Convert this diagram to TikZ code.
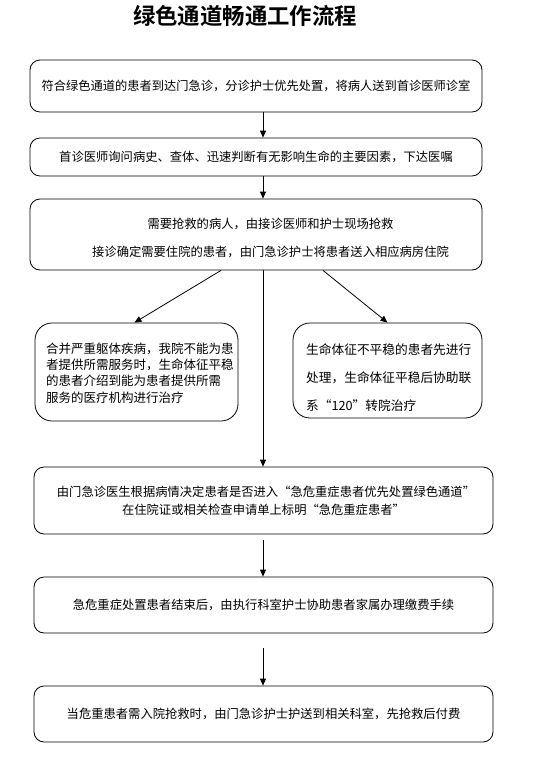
\documentclass[tikz,border=0pt]{standalone}
\usepackage{fontspec}
\setmainfont{Noto Sans CJK SC}[BoldFont={Noto Sans CJK SC Bold}]
\usetikzlibrary{arrows.meta,calc}
\tikzset{
  box/.style={draw, line width=0.8pt, rounded corners=10pt, inner sep=0pt},
  sidebox/.style={draw, line width=0.8pt, rounded corners=17pt, inner sep=0pt},
  txt/.style={inner sep=0pt, font=\fontsize{12.3}{16}\selectfont},
  arr/.style={line width=0.8pt, -{Triangle[length=7pt,width=6pt]}},
  ln/.style={line width=0.8pt}
}
\begin{document}
\begin{tikzpicture}[x=1pt,y=-1pt]
\useasboundingbox (0,0) rectangle (545,764);
\coordinate (spine) at (263,0);
% title
\node[inner sep=0pt, font=\bfseries\fontsize{22.4}{26}\selectfont] (title) at (245,16) {绿色通道畅通工作流程};
% boxes
\node[box, minimum width=452pt, minimum height=52pt] (b1) at (256,86)
  {\fontsize{12.25}{16}\selectfont 符合绿色通道的患者到达门急诊，分诊护士优先处置，将病人送到首诊医师诊室};
\node[box, minimum width=452pt, minimum height=38pt] (b2) at (256,157)
  {\fontsize{12.3}{16}\selectfont 首诊医师询问病史、查体、迅速判断有无影响生命的主要因素，下达医嘱};
\node[box, minimum width=452pt, minimum height=71pt] (b3) at (256,234.5) {};
\node[txt, align=center, font=\fontsize{12.3}{28}\selectfont] (t3) at (270.5,238)
  {需要抢救的病人，由接诊医师和护士现场抢救\\接诊确定需要住院的患者，由门急诊护士将患者送入相应病房住院};
\node[sidebox, minimum width=203pt, minimum height=98pt] (bl) at (136.5,372) {};
\node[txt, align=left, anchor=west, font=\fontsize{12.5}{16.2}\selectfont] (tl) at (46,373)
  {合并严重躯体疾病，我院不能为患\\者提供所需服务时，生命体征平稳\\的患者介绍到能为患者提供所需\\服务的医疗机构进行治疗};
\node[sidebox, minimum width=189pt, minimum height=95pt] (br) at (387.5,370.5) {};
\node[txt, align=left, anchor=west, font=\fontsize{12.7}{28}\selectfont] (tr) at (306,378)
  {生命体征不平稳的患者先进行\\处理，生命体征平稳后协助联\\系“120”转院治疗};
\node[box, minimum width=459pt, minimum height=67pt, align=center,
  font=\fontsize{12.3}{18}\selectfont] (b4) at (263.5,500.5)
  {\hspace*{5pt}由门急诊医生根据病情决定患者是否进入“急危重症患者优先处置绿色通道”\\在住院证或相关检查申请单上标明“急危重症患者”};
\node[box, minimum width=459pt, minimum height=56pt] (b5) at (263.5,605)
  {\fontsize{12.3}{16}\selectfont 急危重症处置患者结束后，由执行科室护士协助患者家属办理缴费手续};
\node[box, minimum width=459pt, minimum height=56pt] (b6) at (263.5,714)
  {\fontsize{12.3}{16}\selectfont 当危重患者需入院抢救时，由门急诊护士护送到相关科室，先抢救后付费};
% connectors
\draw[arr] (b1.south -| spine) -- (b2.north -| spine);
\draw[arr] (b2.south -| spine) -- (b3.north -| spine);
\draw[arr] ($(b3.south)+(-35,0)$) -- ($(bl.north)+(-2,0)$);
\draw[arr] ($(b3.south)+(67,0)$) -- (br.north);
\draw[arr] (b3.south -| spine) -- (b4.north -| spine);
\draw[arr] ($(b4.south -| spine)+(0,6)$) -- (b5.north -| spine);
\draw[arr] ($(b5.south -| spine)+(0,15)$) -- (b6.north -| spine);
\end{tikzpicture}
\end{document}
